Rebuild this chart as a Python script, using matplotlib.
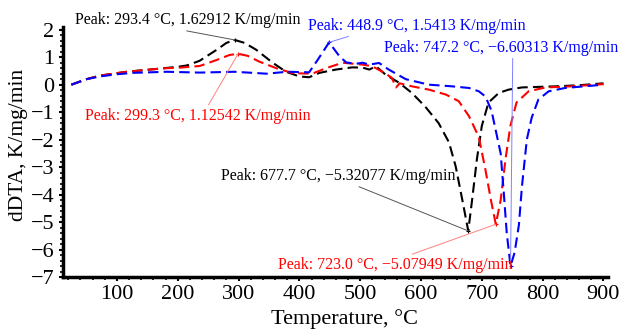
import matplotlib
matplotlib.use("Agg")
from matplotlib import pyplot as plt
from matplotlib.ticker import MultipleLocator

plt.rcParams['font.family'] = ['Liberation Serif', 'DejaVu Serif']

# black curve
t_black = [25, 50, 72, 100, 116, 154, 182, 203, 215, 236, 264, 280, 293.4, 310, 329, 356, 378, 400,
           416, 433, 460, 487, 504, 515, 526, 542, 564, 585, 607, 629, 646, 657, 668, 677.7,
           684, 692, 700, 711, 728, 744, 766, 821, 860, 900]
v_black = [0, 0.2, 0.33, 0.42, 0.47, 0.55, 0.61, 0.66, 0.7, 0.87, 1.27, 1.52, 1.63, 1.52, 1.27, 0.8,
           0.47, 0.3, 0.27, 0.43, 0.55, 0.63, 0.62, 0.55, 0.67, 0.36, 0.07, -0.3, -0.8, -1.4, -2.1,
           -2.97, -4.2, -5.32, -4.2, -2.7, -1.5, -0.65, -0.3, -0.18, -0.1, -0.06, -0.02, 0.05]

# red curve
t_red = [25, 50, 72, 100, 116, 154, 182, 203, 236, 264, 285, 299.3, 315, 334, 362, 389, 421, 444,
         471, 504, 520, 542, 552, 559, 565, 585, 613, 641, 662, 679, 695, 706, 715, 723.0, 731,
         739, 747, 757, 777, 805, 848, 900]
v_red = [0, 0.2, 0.33, 0.42, 0.47, 0.55, 0.6, 0.62, 0.68, 0.9, 1.08, 1.125, 1.05, 0.84, 0.6, 0.42,
         0.4, 0.6, 0.8, 0.73, 0.67, 0.4, 0.25, -0.1, 0.05, -0.06, -0.18, -0.36, -0.6, -1.15, -1.9,
         -3.1, -4.2, -5.08, -4.2, -2.7, -1.5, -0.65, -0.24, -0.1, -0.06, 0.02]

# blue curve
t_blue = [25, 50, 72, 100, 126, 182, 236, 293, 346, 380, 416, 430, 448.9, 466, 477, 493, 504, 515,
          531, 547, 575, 613, 651, 679, 695, 706, 716, 731, 736, 741, 747.2, 754, 761, 766, 774,
          782, 793, 810, 837, 900]
v_blue = [0, 0.2, 0.3, 0.38, 0.43, 0.47, 0.44, 0.47, 0.4, 0.47, 0.45, 0.9, 1.54, 1.03, 0.81, 0.76,
          0.8, 0.73, 0.79, 0.55, 0.2, 0.0, -0.06, -0.12, -0.24, -0.43, -0.95, -2.5, -3.9, -5.4,
          -6.6, -6.1, -5.1, -3.7, -2.0, -1.2, -0.54, -0.24, -0.12, 0.0]

# peak labels: (text, peak T, peak value, text T, text value, colour, line colour, relpos)
peaks = [
    ("Peak: 293.4 \u00b0C, 1.62912 K/mg/min", 293.4, 1.62912, 31, 2.35, 'black', '#555555', (0.43, 0)),
    ("Peak: 299.3 \u00b0C, 1.12542 K/mg/min", 299.3, 1.12542, 47.5, -1.13, 'red', '#ff8080', (0.54, 1)),
    ("Peak: 448.9 \u00b0C, 1.5413 K/mg/min", 448.9, 1.5413, 413.6, 2.15, 'blue', '#8080ff', (0.23, 0)),
    ("Peak: 747.2 \u00b0C, \u22126.60313 K/mg/min", 747.2, -6.60313, 539, 1.35, 'blue', '#8080ff', (0.55, 0)),
    ("Peak: 677.7 \u00b0C, \u22125.32077 K/mg/min", 677.7, -5.32077, 270.8, -3.32, 'black', '#555555', (0.56, 0)),
    ("Peak: 723.0 \u00b0C, \u22125.07949 K/mg/min", 723.0, -5.07949, 364.4, -6.56, 'red', '#ff8080', (0.54, 1)),
]

fig = plt.figure(figsize=(6.22, 3.33), dpi=100)
ax = fig.add_axes([0.101, 0.168, 0.876, 0.751])

ax.plot(t_black, v_black, color='black', lw=1.5, dashes=(5, 2.5))
ax.plot(t_red, v_red, color='red', lw=1.5, dashes=(5, 2.5))
ax.plot(t_blue, v_blue, color='blue', lw=1.5, dashes=(5, 2.5))

for txt, px, py, tx, ty, c, lc, rp in peaks:
    ax.plot(px, py, marker='+', color=c, ms=3, mew=0.8)
    ax.annotate(txt, xy=(px, py), xytext=(tx, ty), color=c, fontsize=11.5,
                ha='left', va='center', annotation_clip=False,
                arrowprops=dict(arrowstyle='-', color=lc, lw=0.7, relpos=rp,
                                shrinkA=0, shrinkB=0))

ax.set_xlim(11, 907)
ax.set_ylim(-7, 2.1)
ax.xaxis.set_major_locator(MultipleLocator(100))
ax.xaxis.set_minor_locator(MultipleLocator(20))
ax.yaxis.set_major_locator(MultipleLocator(1))
ax.yaxis.set_minor_locator(MultipleLocator(0.2))
ax.set_xticks([100, 200, 300, 400, 500, 600, 700, 800, 900])

for s in ['top', 'right']:
    ax.spines[s].set_visible(False)
for s in ['left', 'bottom']:
    ax.spines[s].set_linewidth(2.5)

ax.tick_params(which='major', direction='out', length=3, width=1.5, labelsize=16, pad=3)
ax.tick_params(which='minor', direction='out', length=2, width=1.2)

ax.set_xlabel("Temperature, \u00b0C", fontsize=16)
ax.set_ylabel("dDTA, K/mg/min", fontsize=15.5)
ax.xaxis.set_label_coords(0.517, -0.13)
ax.yaxis.set_label_coords(-0.064, 0.53)

fig.savefig("out.png", dpi=100)
